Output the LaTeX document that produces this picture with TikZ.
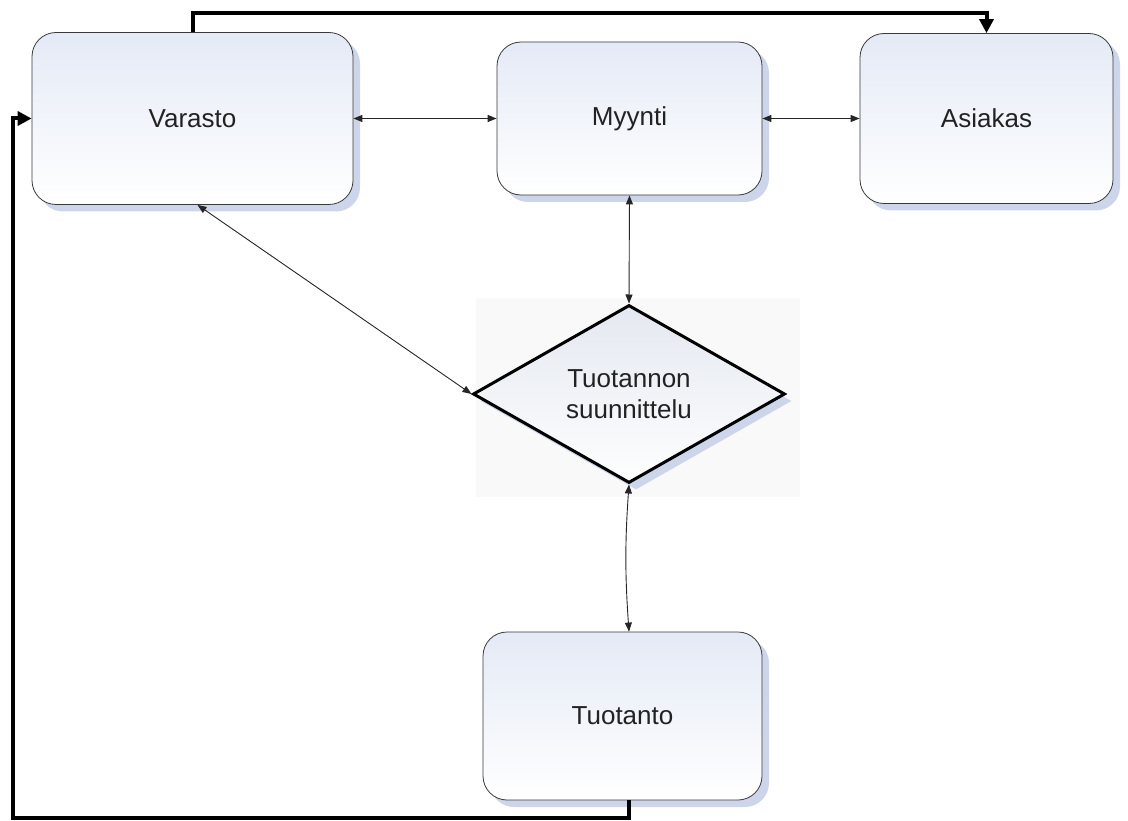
\documentclass[tikz,border=0pt]{standalone}
\usepackage{fontspec}
\setmainfont{Liberation Sans}
\usetikzlibrary{arrows.meta,shapes.geometric,shadows}
\definecolor{shadowc}{HTML}{CDD5EA}
\definecolor{boxtop}{HTML}{E4EAF6}
\definecolor{diatop}{HTML}{E4E8F0}
\definecolor{txt}{HTML}{222222}
\definecolor{bordc}{HTML}{3A3A3A}
\begin{document}
\begin{tikzpicture}[x=1pt,y=-1pt,
  box/.style={draw=bordc, line width=0.8pt, rounded corners=24pt,
    top color=boxtop, bottom color=white,
    drop shadow={shadow xshift=7pt, shadow yshift=-7pt, fill=shadowc, opacity=1},
    text=txt, font=\fontsize{26}{31}\selectfont, inner sep=0pt},
  decision/.style={diamond, draw=black, line width=3pt, aspect=1.75,
    minimum width=312pt, minimum height=178pt, inner sep=0pt,
    top color=diatop, bottom color=white!96!diatop,
    drop shadow={shadow xshift=7pt, shadow yshift=-7pt, fill=shadowc, opacity=1},
    text=txt, font=\fontsize{26}{31}\selectfont, align=center},
  conn/.style={line width=0.9pt, draw=black!85, >={Triangle[length=9pt,width=7pt]}, <->},
  bigconn/.style={line width=4pt, draw=black, -{Triangle[length=14pt,width=14pt]}}
]
\useasboundingbox (0,0) rectangle (1128,821);
\fill[black!2.5] (476,298) rectangle (800,497);

\node[box, minimum width=321pt, minimum height=172pt] (V) at (192.5,118.5) {Varasto};
\node[box, minimum width=265pt, minimum height=153pt] (M) at (629.5,118.5) {Myynti};
\node[box, minimum width=253pt, minimum height=170pt] (A) at (986.5,118.5) {Asiakas};
\node[box, minimum width=279pt, minimum height=168pt] (T) at (622.5,716) {Tuotanto};
\node[decision] (D) at (629,394) {Tuotannon\\suunnittelu};

\coordinate (top) at (0,13);
\coordinate (bl) at (13,818);

\draw[conn] (V.east) -- (M.west);
\draw[conn] (M.east) -- (A.west);
\draw[conn] (M.south) -- (D.north);
\draw[conn] ([xshift=5pt]V.south) -- (D.west);
\draw[conn] (D.south) to[bend right=4] (T.north -| D.south);

\draw[bigconn] (V.north) -- (V.north |- top) -| (A.north);
\draw[bigconn] (T.south -| D.south) |- (bl) |- (V.west);
\end{tikzpicture}
\end{document}
